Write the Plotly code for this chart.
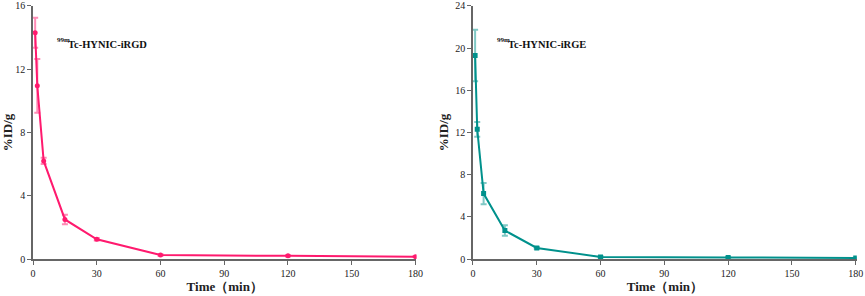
import plotly.graph_objects as go

time_min = [1, 2, 5, 15, 30, 60, 120, 180]
irgd_vals = [14.3, 10.95, 6.2, 2.5, 1.25, 0.25, 0.2, 0.15]
irgd_err = [0.95, 1.7, 0.2, 0.3, 0.08, 0.05, 0.04, 0.03]
irge_vals = [19.3, 12.3, 6.2, 2.7, 1.05, 0.2, 0.15, 0.1]
irge_err = [2.45, 0.7, 1.0, 0.5, 0.08, 0.05, 0.03, 0.03]

x_ticks = [0, 30, 60, 90, 120, 150, 180]
left_yticks = [0, 4, 8, 12, 16]
right_yticks = [0, 4, 8, 12, 16, 20, 24]

PINK = "#FF1A6E"
TEAL = "#00918C"
FONT = "Liberation Serif"

fig = go.Figure()
fig.add_trace(go.Scatter(
    x=time_min, y=irgd_vals, mode="lines+markers",
    line=dict(color=PINK, width=2), marker=dict(color=PINK, size=5, symbol="circle"),
    error_y=dict(type="data", array=irgd_err, color="rgba(255,26,110,0.5)", thickness=2, width=3),
    xaxis="x", yaxis="y", showlegend=False))
fig.add_trace(go.Scatter(
    x=time_min, y=irge_vals, mode="lines+markers",
    line=dict(color=TEAL, width=2), marker=dict(color=TEAL, size=5, symbol="square"),
    error_y=dict(type="data", array=irge_err, color="rgba(0,145,140,0.5)", thickness=2, width=3),
    xaxis="x2", yaxis="y2", showlegend=False))

axis_common = dict(
    showgrid=False, zeroline=False, showline=True, linecolor="#666666", linewidth=1.5,
    ticks="outside", ticklen=4, tickcolor="#666666", tickwidth=1.2,
    tickfont=dict(family=FONT, size=10, color="#222222"),
    tickprefix="<b>", ticksuffix="</b>", automargin=False,
)
title_font = dict(family=FONT, size=13, color="#222222")

fig.update_layout(
    width=865, height=296,
    margin=dict(l=0, r=0, t=0, b=0, autoexpand=False),
    paper_bgcolor="white", plot_bgcolor="white",
    font=dict(family=FONT),
    xaxis=dict(domain=[0.0382, 0.4815], range=[0, 180.5], tickvals=x_ticks,
               title=dict(text="<b>Time（min）</b>", font=title_font, standoff=2),
               anchor="y", **axis_common),
    yaxis=dict(domain=[0.125, 0.98], range=[0, 16], tickvals=left_yticks,
               title=dict(text="<b>%ID/g</b>", font=title_font, standoff=4),
               anchor="x", **axis_common),
    xaxis2=dict(domain=[0.5468, 0.9905], range=[0, 180.5], tickvals=x_ticks,
                title=dict(text="<b>Time（min）</b>", font=title_font, standoff=2),
                anchor="y2", **axis_common),
    yaxis2=dict(domain=[0.125, 0.98], range=[0, 24], tickvals=right_yticks,
                title=dict(text="<b>%ID/g</b>", font=title_font, standoff=4),
                anchor="x2", **axis_common),
)

labels = [("Tc-HYNIC-iRGD", 55), ("Tc-HYNIC-iRGE", 495)]
for name, px in labels:
    fig.add_annotation(text="<b>99m</b>", xref="paper", yref="paper",
                       x=px/865, y=1-40/296, xanchor="left", yanchor="middle", showarrow=False,
                       font=dict(family=FONT, size=7, color="#111111"))
    fig.add_annotation(text="<b>" + name + "</b>", xref="paper", yref="paper",
                       x=(px+11)/865, y=1-44/296, xanchor="left", yanchor="middle", showarrow=False,
                       font=dict(family=FONT, size=10.5, color="#111111"))

fig.write_html("out.html", config={"displayModeBar": False},
               post_script="document.body.style.margin='0';document.body.style.padding='0';")
